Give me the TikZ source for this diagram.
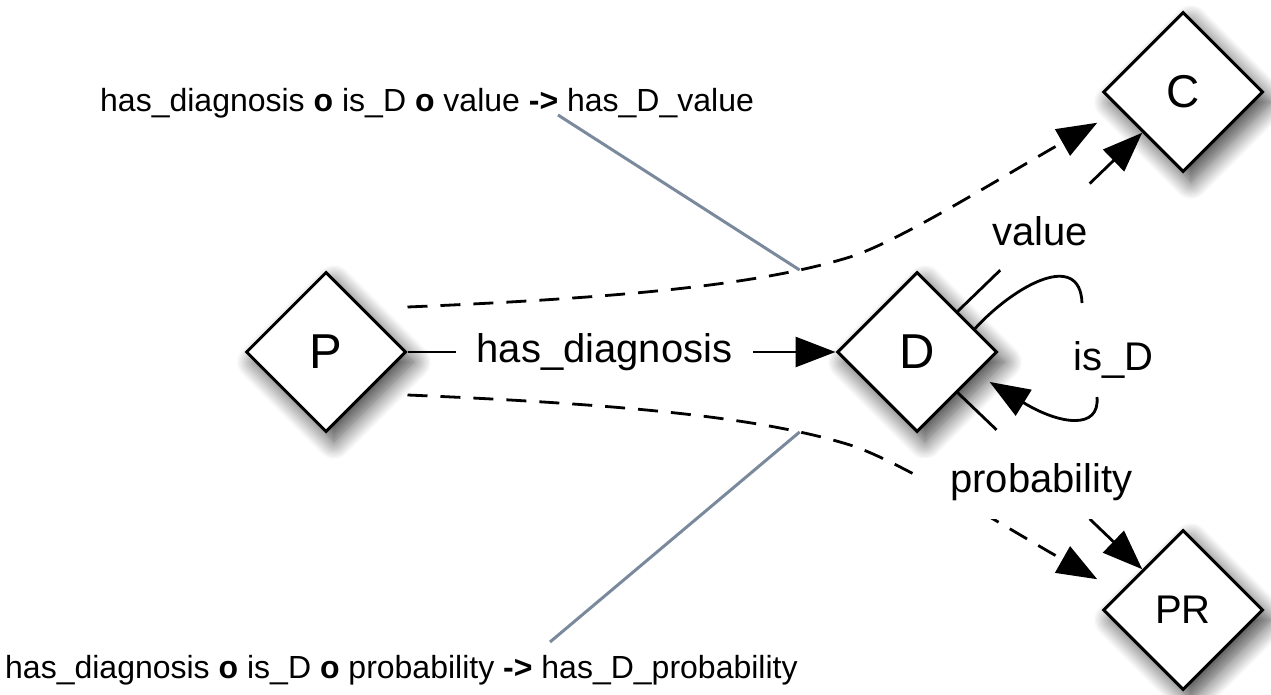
\documentclass[tikz,border=0pt]{standalone}
\usepackage{fontspec}
\setmainfont{Liberation Sans}
\usetikzlibrary{shapes.geometric,arrows.meta,calc,shadows.blur}

\begin{document}
\begin{tikzpicture}[x=1pt,y=-1pt,
  ent/.style={diamond, draw=black, line width=3pt, fill=white,
    minimum width=160pt, minimum height=160pt, inner sep=0pt,
    font=\fontsize{49}{49}\selectfont,
    blur shadow={shadow xshift=8pt, shadow yshift=-10pt,
      shadow blur radius=18pt, shadow blur steps=16, shadow opacity=75}},
  rel/.style={line width=2.8pt, draw=black},
  tip/.style={-{Triangle[length=40pt,width=30pt]}},
  dsh/.style={rel, dash pattern=on 20pt off 13pt},
  lbl/.style={font=\fontsize{40}{40}\selectfont, inner sep=0pt},
  note/.style={font=\fontsize{32}{33}\selectfont, inner sep=0pt},
  leader/.style={line width=3pt, draw={rgb,255:red,122;green,138;blue,156}}
]
\useasboundingbox (0,0) rectangle (1271,695);

% entities
\node[ent] (P) at (326,352) {P};
\node[ent] (D) at (917,352) {D};
\node[ent, font=\fontsize{46}{46}\selectfont] (C) at (1183,92) {C};
\node[ent, font=\fontsize{40}{40}\selectfont] (PR) at (1183,610) {PR};

% has_diagnosis
\draw[rel,tip] (P) -- node[lbl, pos=0.46, fill=white, inner xsep=21pt, inner ysep=4pt] (hd) {has\_diagnosis} (D);

% composed (dashed) properties
\coordinate (pu) at ($(P.east)+(0,-45)$);
\coordinate (pl) at ($(P.east)+(0,43)$);
\draw[dsh,tip] (pu) .. controls (620,298) and (760,285) .. (850,257)
  coordinate[pos=0.83] (vtouch)
  .. controls (900,241) and (1000,178) .. ($(C.-135)+(-45,-10)$);
\draw[dsh,tip] (pl) .. controls (620,404) and (760,417) .. (850,445)
  coordinate[pos=0.83] (ptouch)
  .. controls (900,461) and (1000,524) .. ($(PR.135)+(-45,10)$);

% value: D -> C
\coordinate (v1) at ($(D.45)!0.23!(C.-135)$);
\coordinate (v2) at ($(D.45)!0.715!(C.-135)$);
\draw[rel] (D.45) -- (v1);
\draw[rel,tip] (v2) -- (C.-135);
\node[lbl, anchor=base] (vlab) at (1040,245) {value};

% probability: D -> PR
\coordinate (p1) at ($(D.-45)!0.21!(PR.135)$);
\coordinate (p2) at ($(D.-45)!0.715!(PR.135)$);
\draw[rel] (D.-45) -- (p1);
\draw[rel,tip] (p2) -- (PR.135);
\node[lbl, anchor=base west, fill=white, inner xsep=27pt, inner ysep=5pt, text depth=22pt] (plab) at (923,492) {probability};

% is_D: self loop on D
\coordinate (isA) at (1082,303);
\coordinate (isB) at (1097,397);
\draw[rel] (D.22) .. controls (1015,285) and (1080,250) .. (isA);
\draw[rel,tip] (isB) .. controls (1100,430) and (1060,425) .. ($(D.-25)+(17,4)$);
\node[lbl, anchor=base west] (islab) at (1073,370) {is\_D};

% property chain notes
\node[note, anchor=base west] (topnote) at (100,112)
  {has\_diagnosis \textbf{o} is\_D \textbf{o} value \textbf{->} has\_D\_value};
\node[note, anchor=base west] (botnote) at (5,678)
  {has\_diagnosis \textbf{o} is\_D \textbf{o} probability \textbf{->} has\_D\_probability};
\coordinate (vnote) at (558,115);
\coordinate (pnote) at (550,642);
\draw[leader] (vnote) -- (vtouch);
\draw[leader] (pnote) -- (ptouch);
\end{tikzpicture}
\end{document}
